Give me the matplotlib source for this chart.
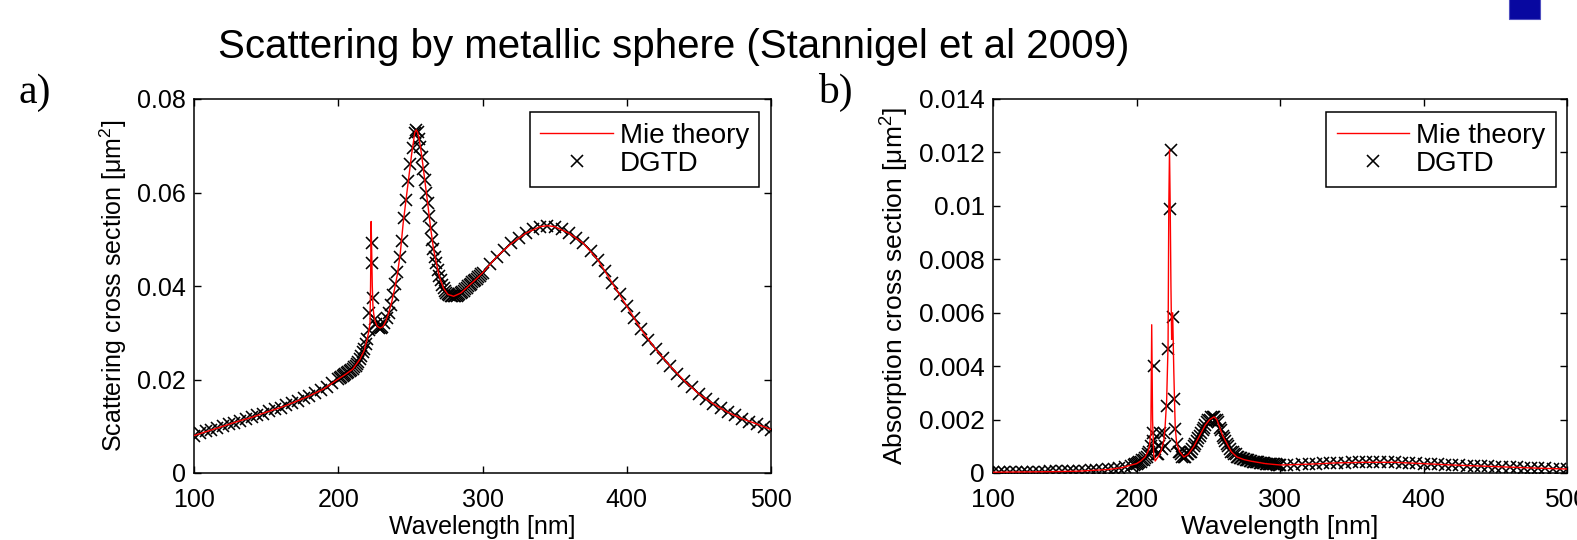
import numpy as np
import matplotlib
matplotlib.use("Agg")
import matplotlib.pyplot as plt
from matplotlib.patches import Rectangle
from matplotlib.ticker import FuncFormatter, FixedLocator

plt.rcParams['font.family'] = ['Liberation Sans', 'DejaVu Sans']
plt.rcParams['mathtext.fontset'] = 'custom'
plt.rcParams['mathtext.rm'] = 'Liberation Sans'
plt.rcParams['mathtext.it'] = 'Liberation Sans:italic'

# ---------------- data: panel a (scattering) ----------------
mie_wl_a = [100, 110, 120, 130, 140, 150, 160, 170, 180, 190, 200, 205, 210, 215, 218,
            220, 221, 222, 222.4, 222.8, 223.2, 223.6, 224, 224.6, 225.5, 227, 229, 231,
            233, 235, 237, 239, 241, 243, 245, 247, 249, 251, 252, 253, 254, 255, 256,
            257, 258, 260, 262, 264, 266, 268, 270, 273, 276, 280, 285, 290, 295, 300,
            310, 320, 330, 340, 345, 350, 360, 370, 380, 390, 400, 410, 420, 430, 440,
            450, 460, 470, 480, 490, 500]
mie_sca_a = [0.0080, 0.0090, 0.0100, 0.0110, 0.0119, 0.0130, 0.0140, 0.0152, 0.0165, 0.0180,
             0.0201, 0.0211, 0.0222, 0.0243, 0.0262, 0.0286, 0.0300, 0.0320, 0.0400, 0.0538,
             0.0470, 0.0400, 0.0360, 0.0340, 0.0325, 0.0314, 0.0310, 0.0313, 0.0325, 0.0343,
             0.0365, 0.0393, 0.0425, 0.0470, 0.0534, 0.0585, 0.0635, 0.0685, 0.0705, 0.0728,
             0.0734, 0.0729, 0.0715, 0.0697, 0.0675, 0.0626, 0.0577, 0.0525, 0.0480, 0.0449,
             0.0421, 0.0395, 0.0382, 0.0378, 0.0385, 0.0399, 0.0413, 0.0428, 0.0463, 0.0491,
             0.0513, 0.0527, 0.0529, 0.0527, 0.0513, 0.0491, 0.0456, 0.0406, 0.0357, 0.0307,
             0.0265, 0.0229, 0.0197, 0.0169, 0.0148, 0.0130, 0.0116, 0.0105, 0.0093]

dgtd_wl_a = [100, 104, 108, 112, 116, 120, 124, 128, 132, 136, 140, 144, 148, 152, 156, 160,
             164, 168, 172, 176, 180, 184, 188, 192, 196,
             200, 201, 202, 203, 204, 205, 206, 207, 208, 209, 210, 211, 212, 213, 214, 215,
             216, 217, 218, 219, 220, 221, 221.5, 223.2, 223.4, 224.3, 225.5, 226.5, 227.5,
             228.5, 229.5, 230.5,
             232, 233.5, 235, 236.5, 238, 239.5, 241, 242.5, 244, 245.5, 247, 248.5, 250,
             251.5, 253, 254, 255, 256, 257, 258, 259, 260, 261, 262, 263, 264, 265, 266,
             267, 268, 269, 270, 271, 272, 273, 274, 275, 276, 277, 278, 279, 280, 281, 282,
             283, 284, 285, 286, 287, 288, 289, 290, 291, 292, 293, 294, 295, 296, 297, 298,
             299, 300,
             305, 310, 315, 320, 325, 330, 335, 340, 345, 350, 355, 360, 365, 370, 375, 380,
             385, 390, 395, 400, 405, 410, 415, 420, 425, 430, 435, 440, 445, 450, 455, 460,
             465, 470, 475, 480, 485, 490, 495, 500]
dgtd_sca_a = [0.0080, 0.0085, 0.0089, 0.0093, 0.0097, 0.0100, 0.0104, 0.0108, 0.0112, 0.0116,
              0.0119, 0.0123, 0.0127, 0.0132, 0.0136, 0.0140, 0.0145, 0.0150, 0.0155, 0.0160,
              0.0165, 0.0171, 0.0178, 0.0185, 0.0193,
              0.0201, 0.0203, 0.0205, 0.0207, 0.0209, 0.0211, 0.0213, 0.0215, 0.0218, 0.0220,
              0.0222, 0.0226, 0.0229, 0.0233, 0.0238, 0.0243, 0.0250, 0.0258, 0.0266, 0.0276,
              0.0286, 0.0305, 0.0342, 0.0449, 0.0491, 0.0374, 0.0330, 0.0318, 0.0312, 0.0310,
              0.0310, 0.0312,
              0.0320, 0.0331, 0.0343, 0.0360, 0.0380, 0.0404, 0.0430, 0.0462, 0.0497, 0.0545,
              0.0585, 0.0625, 0.0662, 0.0695, 0.0728, 0.0734, 0.0729, 0.0715, 0.0697, 0.0675,
              0.0650, 0.0626, 0.0600, 0.0577, 0.0550, 0.0525, 0.0499, 0.0480, 0.0463, 0.0449,
              0.0435, 0.0421, 0.0412, 0.0403, 0.0396, 0.0390, 0.0385, 0.0382, 0.0380, 0.0379,
              0.0378, 0.0378, 0.0378, 0.0379, 0.0380, 0.0382, 0.0385, 0.0387, 0.0390, 0.0393,
              0.0396, 0.0399, 0.0402, 0.0405, 0.0408, 0.0410, 0.0413, 0.0416, 0.0419, 0.0422,
              0.0425, 0.0428,
              0.0446, 0.0463, 0.0477, 0.0491, 0.0503, 0.0513, 0.0521, 0.0527, 0.0529, 0.0527,
              0.0521, 0.0513, 0.0503, 0.0491, 0.0475, 0.0456, 0.0432, 0.0406, 0.0382, 0.0357,
              0.0332, 0.0307, 0.0285, 0.0265, 0.0246, 0.0229, 0.0212, 0.0197, 0.0183, 0.0169,
              0.0158, 0.0148, 0.0139, 0.0130, 0.0123, 0.0116, 0.0110, 0.0105, 0.0099, 0.0093]

# ---------------- data: panel b (absorption) ----------------
mie_wl_b = [100, 120, 140, 160, 170, 180, 190, 195, 200, 203, 206, 208, 209, 210, 210.6,
            211.2, 212, 213, 215, 217, 219, 220, 221, 222, 222.5, 223.0, 223.5, 224.0, 224.5,
            225.2, 226, 226.5, 227, 228, 230, 233, 236, 240, 244, 248, 251, 254, 256, 258,
            260, 263, 266, 270, 275, 280, 290, 300, 320, 340, 360, 380, 400, 420, 440, 460,
            480, 500]
mie_abs_b = [0.00003, 0.00004, 0.00005, 0.00007, 0.00010, 0.00013, 0.00020, 0.00028, 0.00035,
             0.00045, 0.00060, 0.00080, 0.00100, 0.00150, 0.00555, 0.00200, 0.00070, 0.00045,
             0.00060, 0.00080, 0.00120, 0.00180, 0.00270, 0.00480, 0.00990, 0.01210, 0.00990,
             0.00700, 0.00500, 0.00600, 0.00380, 0.00270, 0.00170, 0.00110, 0.00080, 0.00060,
             0.00070, 0.00100, 0.00140, 0.00180, 0.00200, 0.00210, 0.00200, 0.00170, 0.00140,
             0.00110, 0.00080, 0.00060, 0.00050, 0.00044, 0.00035, 0.00030, 0.00033, 0.00038,
             0.00040, 0.00040, 0.00035, 0.00030, 0.00026, 0.00022, 0.00018, 0.00015]

dgtd_wl_b = [100, 104, 108, 112, 116, 120, 124, 128, 132, 136, 140, 144, 148, 152, 156, 160,
             164, 168, 172, 176, 180, 184, 188, 192, 196,
             198, 199, 200, 201, 202, 203, 204, 205, 206, 207, 208, 209, 210,
             211.3, 211.8, 212.5, 213.2, 214, 215, 216, 216.7, 218, 219, 220, 221.3, 222.0,
             223.0, 223.7, 225.5, 226.4, 227.1, 228.3, 229.5,
             230, 231, 232, 233, 234, 235, 236, 237, 238, 239, 240, 241, 242, 243, 244, 245,
             246, 247, 248, 249, 250, 251, 252, 253, 254, 255, 256, 257, 258, 259, 260, 261,
             262, 263, 264, 265, 266, 267, 268, 269, 270, 271, 272, 273, 274, 275, 276, 277,
             278, 279, 280, 281, 282, 283, 284, 285, 286, 287, 288, 289, 290, 291, 292, 293,
             294, 295, 296, 297, 298, 299, 300,
             305, 310, 315, 320, 325, 330, 335, 340, 345, 350, 355, 360, 365, 370, 375, 380,
             385, 390, 395, 400, 405, 410, 415, 420, 425, 430, 435, 440, 445, 450, 455, 460,
             465, 470, 475, 480, 485, 490, 495, 500]
dgtd_abs_b = [0.00003, 0.00003, 0.00003, 0.00003, 0.00004, 0.00004, 0.00004, 0.00005, 0.00005,
              0.00005, 0.00006, 0.00006, 0.00007, 0.00007, 0.00008, 0.00008, 0.00009, 0.00010,
              0.00011, 0.00012, 0.00014, 0.00016, 0.00019, 0.00022, 0.00027,
              0.00030, 0.00032, 0.00035, 0.00037, 0.00040, 0.00043, 0.00047, 0.00050, 0.00055,
              0.00060, 0.00070, 0.00080, 0.00100,
              0.00120, 0.00150, 0.00400, 0.00090, 0.00070, 0.00070, 0.00100, 0.00150, 0.00090,
              0.00150, 0.00100, 0.00250, 0.00466, 0.00988, 0.01208, 0.00585, 0.00276, 0.00166,
              0.00110, 0.00080,
              0.00080, 0.00070, 0.00060, 0.00060, 0.00060, 0.00070, 0.00070, 0.00080, 0.00080,
              0.00090, 0.00100, 0.00110, 0.00120, 0.00130, 0.00140, 0.00150, 0.00160, 0.00170,
              0.00180, 0.00190, 0.00200, 0.00200, 0.00210, 0.00210, 0.00210, 0.00200, 0.00200,
              0.00190, 0.00170, 0.00160, 0.00140, 0.00130, 0.00120, 0.00110, 0.00100, 0.00090,
              0.00080, 0.00080, 0.00070, 0.00070, 0.00060, 0.00059, 0.00058, 0.00056, 0.00054,
              0.00052, 0.00050, 0.00049, 0.00047, 0.00046, 0.00044, 0.00043, 0.00042, 0.00041,
              0.00040, 0.00040, 0.00039, 0.00038, 0.00037, 0.00036, 0.00035, 0.00035, 0.00034,
              0.00034, 0.00033, 0.00033, 0.00032, 0.00032, 0.00031, 0.00031, 0.00030,
              0.00030, 0.00031, 0.00032, 0.00033, 0.00035, 0.00036, 0.00037, 0.00038, 0.00039,
              0.00040, 0.00040, 0.00040, 0.00040, 0.00040, 0.00040, 0.00040, 0.00039, 0.00037,
              0.00036, 0.00035, 0.00034, 0.00032, 0.00031, 0.00030, 0.00029, 0.00028, 0.00027,
              0.00026, 0.00025, 0.00024, 0.00023, 0.00022, 0.00021, 0.00020, 0.00019, 0.00018,
              0.00017, 0.00016, 0.00015, 0.00015]

x_ticks = [100, 200, 300, 400, 500]
y_ticks_a = [0, 0.02, 0.04, 0.06, 0.08]
y_ticks_b = [0, 0.002, 0.004, 0.006, 0.008, 0.01, 0.012, 0.014]

title_text = "Scattering by metallic sphere (Stannigel et al 2009)"
legend_labels = ["Mie theory", "DGTD"]
xlabel_text = "Wavelength [nm]"
ylabel_a = "Scattering cross section [\u03bcm$^2$]"
ylabel_b = "Absorption cross section [\u03bcm$^2$]"

W, H = 1577, 540
fig = plt.figure(figsize=(W / 100, H / 100), dpi=100)

def px_axes(l, t, r, b):
    return [l / W, 1 - b / H, (r - l) / W, (b - t) / H]

ax_a = fig.add_axes(px_axes(194, 99, 771, 473))
ax_b = fig.add_axes(px_axes(993, 99, 1567, 473))


def style(ax, wl_m, val_m, wl_d, val_d, yticks, ymax, ylabel, ylab_x, fs_tick, fs_lab, fs_leg):
    ax.plot(wl_d, val_d, linestyle='none', marker='x', color='black',
            markersize=8, markeredgewidth=1.15, zorder=2, label=legend_labels[1])
    ax.plot(wl_m, val_m, color='#ff0000', linewidth=1.0, zorder=3, label=legend_labels[0])
    ax.set_xlim(100, 500)
    ax.set_ylim(0, ymax)
    ax.xaxis.set_major_locator(FixedLocator(x_ticks))
    ax.yaxis.set_major_locator(FixedLocator(yticks))
    ax.yaxis.set_major_formatter(FuncFormatter(lambda v, p: '%g' % v))
    ax.tick_params(direction='in', top=True, right=True, length=5, width=1,
                   labelsize=fs_tick, pad=6, colors='black')
    ax.tick_params(axis='x', pad=11)
    for s in ax.spines.values():
        s.set_linewidth(1.1)
        s.set_color('black')
    ax.set_xlabel(xlabel_text, fontsize=fs_lab)
    ax.xaxis.set_label_coords(0.5, -0.111)
    ax.set_ylabel(ylabel, fontsize=fs_lab)
    ax.yaxis.set_label_coords(ylab_x, 0.5)
    h, l = ax.get_legend_handles_labels()
    leg = ax.legend([h[1], h[0]], [l[1], l[0]], loc='upper right',
                    bbox_to_anchor=(0.98, 0.965), borderaxespad=0, fontsize=fs_leg,
                    fancybox=False, framealpha=1, edgecolor='black', numpoints=1,
                    handlelength=2.6, handletextpad=0.25, labelspacing=0.08,
                    borderpad=0.38)
    leg.get_frame().set_linewidth(1.1)

style(ax_a, mie_wl_a, mie_sca_a, dgtd_wl_a, dgtd_sca_a, y_ticks_a, 0.08, ylabel_a,
      -0.113, 18, 18, 20)
style(ax_b, mie_wl_b, mie_abs_b, dgtd_wl_b, dgtd_abs_b, y_ticks_b, 0.014, ylabel_b,
      -0.142, 19, 19, 20)

fig.text(218 / W, 1 - 47 / H, title_text, fontsize=29, va='center', ha='left')
fig.text(18 / W, 1 - 103 / H, "a)", fontsize=30, va='baseline', ha='left',
         family=['Liberation Serif', 'DejaVu Serif'])
fig.text(818 / W, 1 - 103 / H, "b)", fontsize=30, va='baseline', ha='left',
         family=['Liberation Serif', 'DejaVu Serif'])

fig.patches.append(Rectangle((1509 / W, 1 - 19 / H), 31 / W, 25 / H,
                             transform=fig.transFigure, facecolor='#0808a0',
                             edgecolor='#5050c0', linewidth=0.8))

fig.savefig("out.png", dpi=100)
